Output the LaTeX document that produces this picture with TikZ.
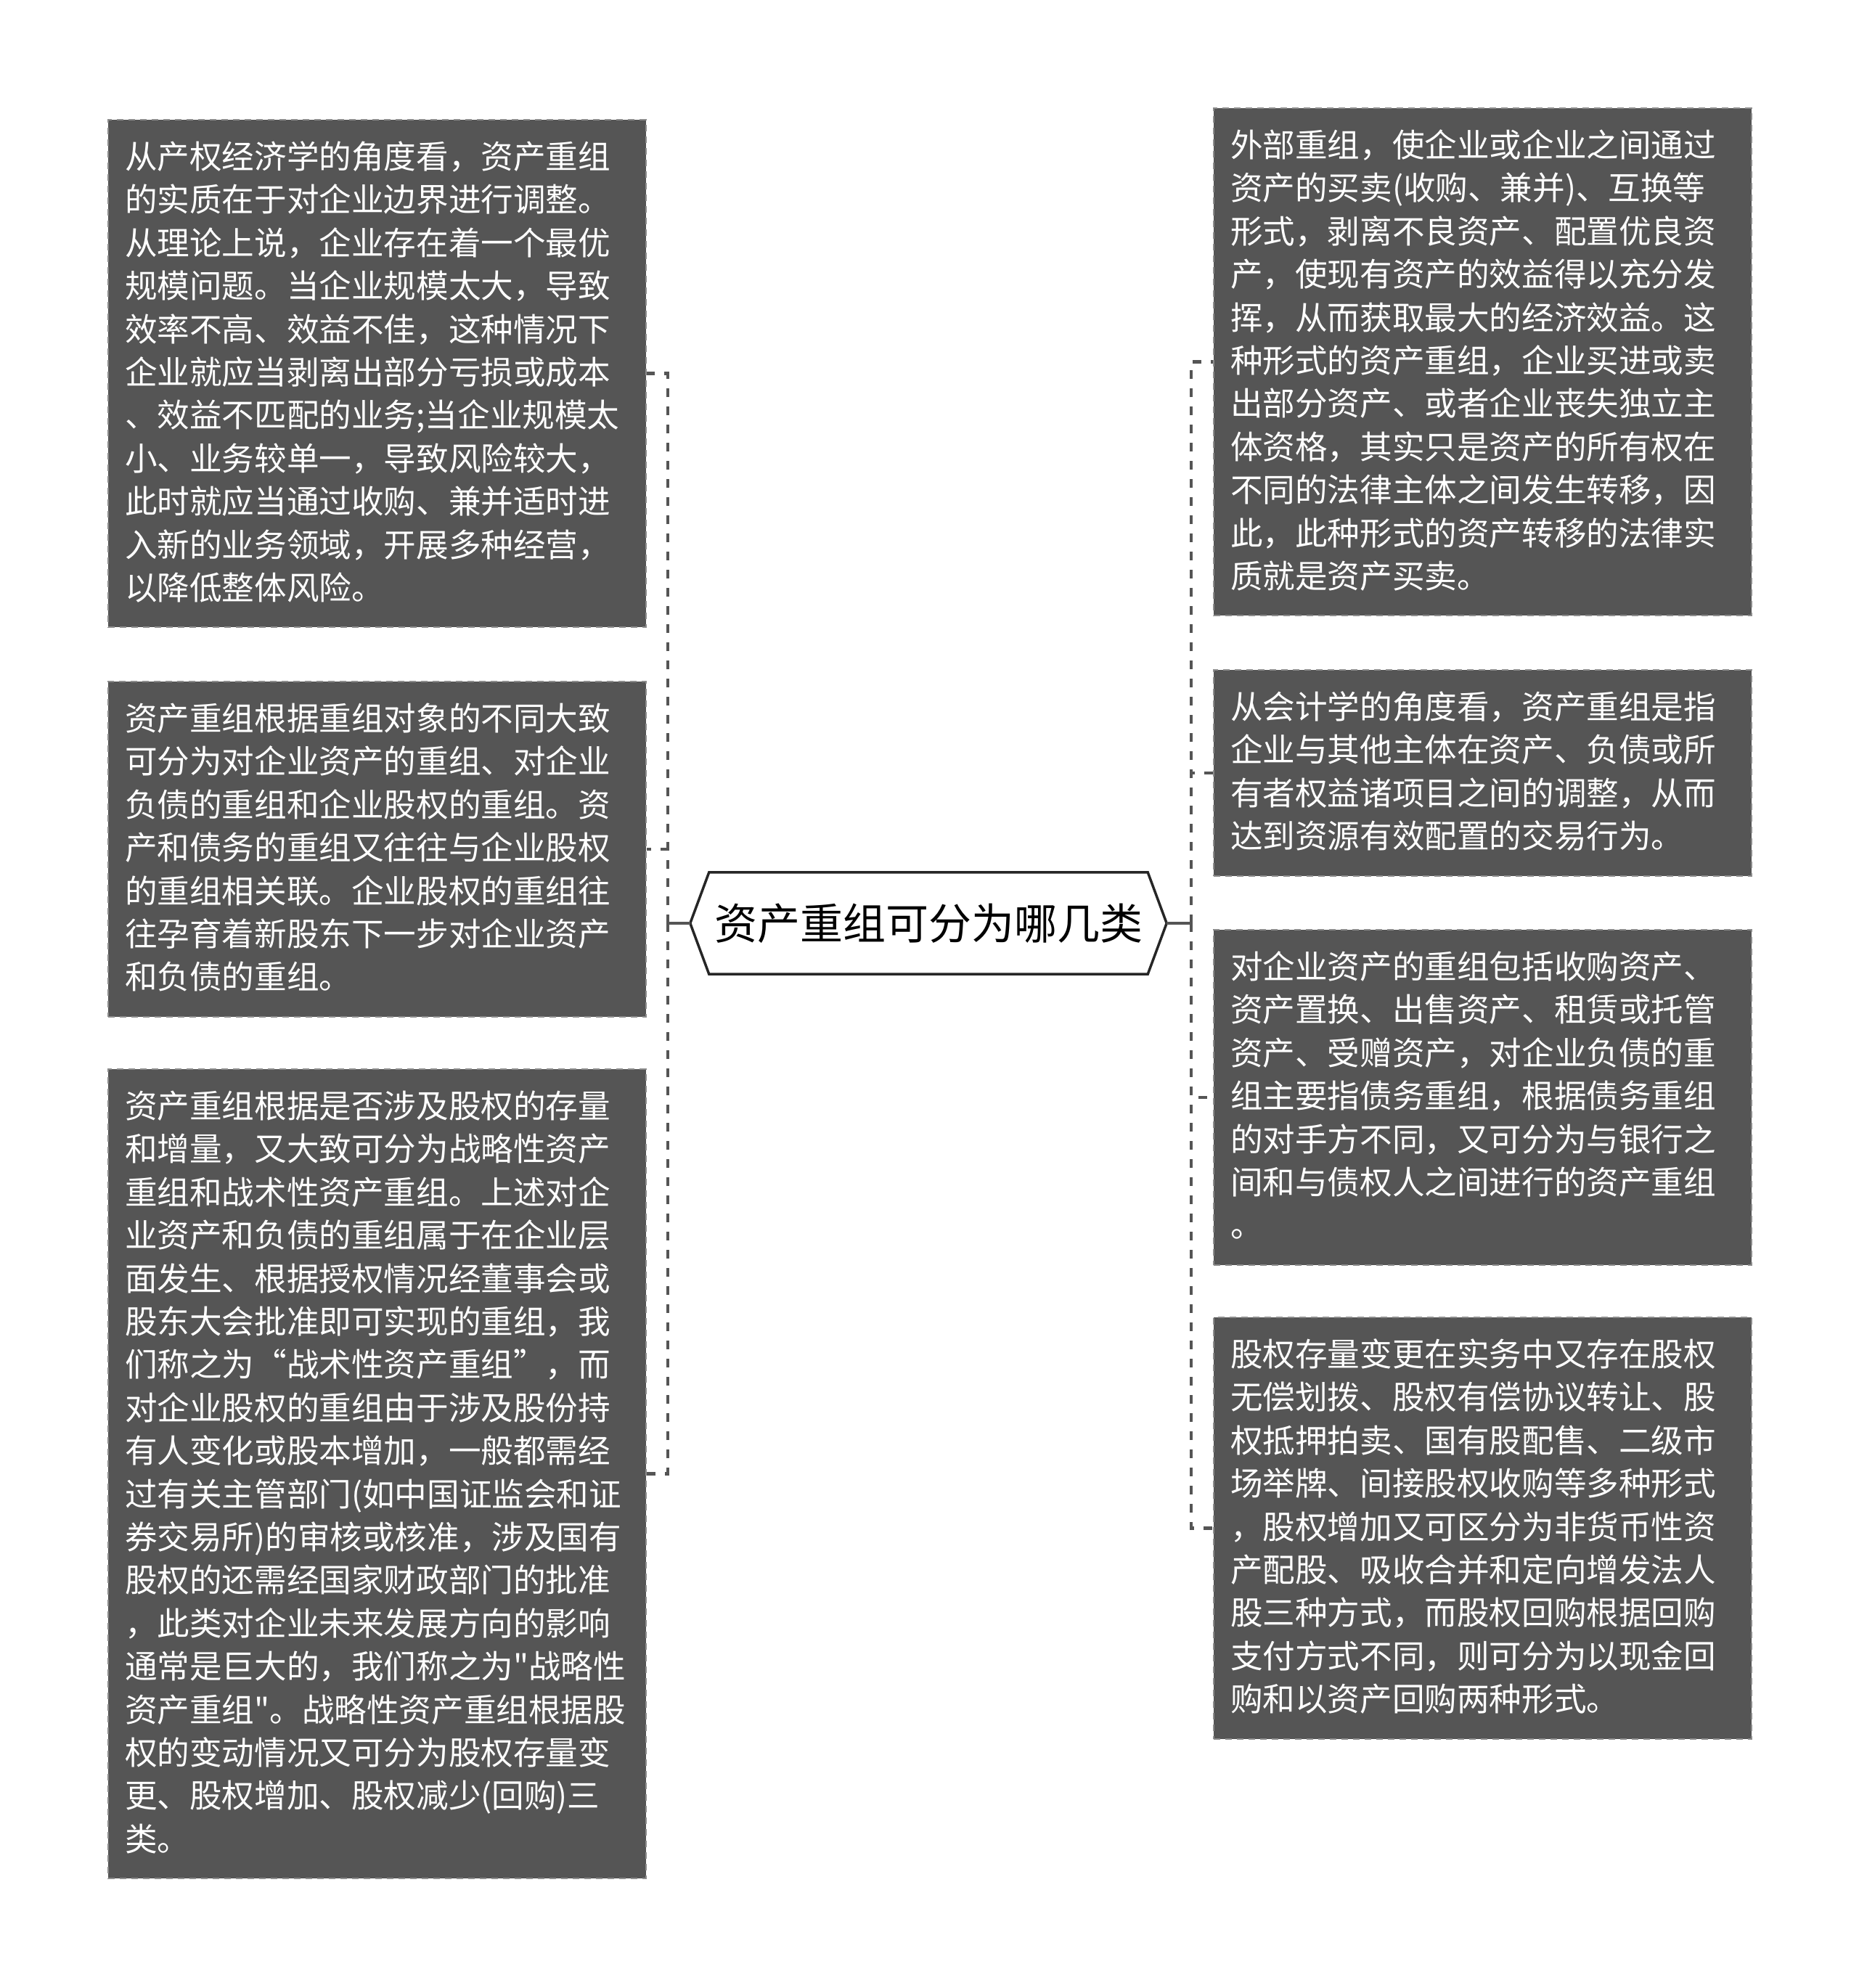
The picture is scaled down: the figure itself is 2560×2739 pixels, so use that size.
\documentclass[tikz,border=0pt]{standalone}
\usepackage{fontspec}
\setmainfont{Noto Sans CJK SC}
\setmonofont{Noto Sans CJK SC}
\definecolor{boxfill}{HTML}{555555}
\definecolor{boxedge}{HTML}{8C8C8C}
\definecolor{connc}{HTML}{555555}
\definecolor{hexc}{HTML}{262626}
\newcommand\bstrut{\rule[-14.9pt]{0pt}{59.4pt}}
\newcommand\sq{{\ttfamily\symbol{34}}}
\tikzset{
  textbox/.style={anchor=north west, fill=boxfill, draw=boxedge, line width=2pt,
    dash pattern=on 9pt off 7pt, text=white, text width=695pt,
    inner xsep=23pt, inner ysep=23pt, align=left,
    font=\fontsize{44.6pt}{59.4pt}\selectfont},
  conn/.style={draw=connc, line width=4.5pt, dash pattern=on 12pt off 13pt},
  stub/.style={draw=connc, line width=4.5pt},
  hexline/.style={draw=hexc, line width=3.5pt, line join=miter}
}
\begin{document}
\begin{tikzpicture}[x=1pt,y=-1pt]
\useasboundingbox (0,0) rectangle (2560,2739);
\fill[white] (0,0) rectangle (2560,2739);

% left boxes
\node[textbox] (L1) at (148,164) {\bstrut 从产权经济学的角度看，资产重组\\的实质在于对企业边界进行调整。\\从理论上说，企业存在着一个最优\\规模问题。当企业规模太大，导致\\效率不高、效益不佳，这种情况下\\企业就应当剥离出部分亏损或成本\\、效益不匹配的业务;当企业规模太\\小、业务较单一，导致风险较大，\\此时就应当通过收购、兼并适时进\\入新的业务领域，开展多种经营，\\以降低整体风险。\bstrut};

\node[textbox] (L2) at (148,938) {\bstrut 资产重组根据重组对象的不同大致\\可分为对企业资产的重组、对企业\\负债的重组和企业股权的重组。资\\产和债务的重组又往往与企业股权\\的重组相关联。企业股权的重组往\\往孕育着新股东下一步对企业资产\\和负债的重组。\bstrut};

\node[textbox] (L3) at (148,1472) {\bstrut 资产重组根据是否涉及股权的存量\\和增量，又大致可分为战略性资产\\重组和战术性资产重组。上述对企\\业资产和负债的重组属于在企业层\\面发生、根据授权情况经董事会或\\股东大会批准即可实现的重组，我\\们称之为“战术性资产重组”，而\\对企业股权的重组由于涉及股份持\\有人变化或股本增加，一般都需经\\过有关主管部门(如中国证监会和证\\券交易所)的审核或核准，涉及国有\\股权的还需经国家财政部门的批准\\，此类对企业未来发展方向的影响\\通常是巨大的，我们称之为\sq 战略性\\资产重组\sq 。战略性资产重组根据股\\权的变动情况又可分为股权存量变\\更、股权增加、股权减少(回购)三\\类。\bstrut};

% right boxes
\node[textbox] (R1) at (1671,148) {\bstrut 外部重组，使企业或企业之间通过\\资产的买卖(收购、兼并)、互换等\\形式，剥离不良资产、配置优良资\\产，使现有资产的效益得以充分发\\挥，从而获取最大的经济效益。这\\种形式的资产重组，企业买进或卖\\出部分资产、或者企业丧失独立主\\体资格，其实只是资产的所有权在\\不同的法律主体之间发生转移，因\\此，此种形式的资产转移的法律实\\质就是资产买卖。\bstrut};

\node[textbox] (R2) at (1671,922) {\bstrut 从会计学的角度看，资产重组是指\\企业与其他主体在资产、负债或所\\有者权益诸项目之间的调整，从而\\达到资源有效配置的交易行为。\bstrut};

\node[textbox] (R3) at (1671,1280) {\bstrut 对企业资产的重组包括收购资产、\\资产置换、出售资产、租赁或托管\\资产、受赠资产，对企业负债的重\\组主要指债务重组，根据债务重组\\的对手方不同，又可分为与银行之\\间和与债权人之间进行的资产重组\\。\bstrut};

\node[textbox] (R4) at (1671,1814) {\bstrut 股权存量变更在实务中又存在股权\\无偿划拨、股权有偿协议转让、股\\权抵押拍卖、国有股配售、二级市\\场举牌、间接股权收购等多种形式\\，股权增加又可区分为非货币性资\\产配股、吸收合并和定向增发法人\\股三种方式，而股权回购根据回购\\支付方式不同，则可分为以现金回\\购和以资产回购两种形式。\bstrut};

% centre
\node[minimum width=656pt, minimum height=140pt, inner sep=0pt,
      font=\fontsize{59pt}{70pt}\selectfont, text=black] (c) at (1279,1272) {资产重组可分为哪几类};
\draw[hexline] (c.west) -- ([xshift=26pt]c.north west) -- ([xshift=-26pt]c.north east)
  -- (c.east) -- ([xshift=-26pt]c.south east) -- ([xshift=26pt]c.south west) -- cycle;

% connectors
\coordinate (lb) at ([xshift=-31pt]c.west);
\coordinate (rb) at ([xshift=34pt]c.east);
\draw[stub] (c.west) -- (lb);
\draw[stub] (c.east) -- (rb);
\draw[conn] (lb) |- (L1.east);
\draw[conn] (lb) |- (L2.east);
\draw[conn] (lb) |- (L3.east);
\draw[conn] (rb) |- (R1.west);
\draw[conn] (rb) |- (R2.west);
\draw[conn] (rb) |- (R3.west);
\draw[conn] (rb) |- (R4.west);
\end{tikzpicture}
\end{document}
